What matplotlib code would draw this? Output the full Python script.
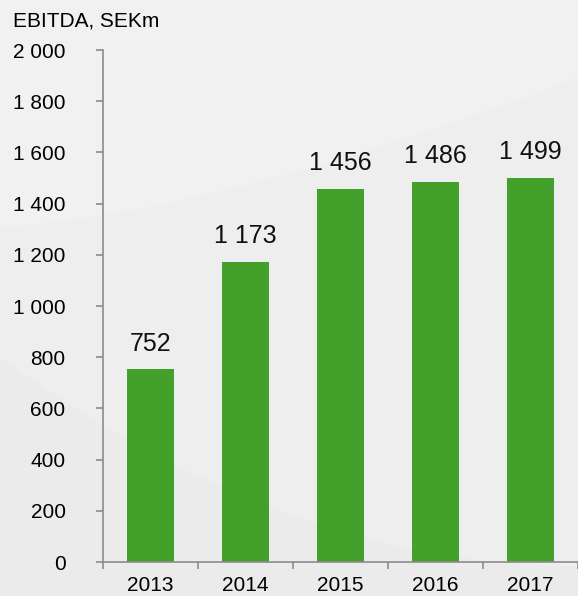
import numpy as np
import matplotlib
matplotlib.use("Agg")
from matplotlib import pyplot as plt
from matplotlib.ticker import FuncFormatter, FixedLocator

# data
years = ["2013", "2014", "2015", "2016", "2017"]
ebitda = [752, 1173, 1456, 1486, 1499]
yticks = list(range(0, 2001, 200))

plt.rcParams["font.family"] = ["Liberation Sans", "DejaVu Sans"]

fig = plt.figure(figsize=(5.78, 5.96), dpi=100, facecolor="#eeeeee")

# faint background swooshes
bg = fig.add_axes([0, 0, 1, 1], zorder=-1)
bg.set_xlim(0, 1)
bg.set_ylim(0, 1)
bg.axis("off")
t = np.linspace(0, 1, 200)
bg.fill_between(t, 0.62 + 0.25 * t**1.5, 1.0, color="#f1f1f1", lw=0)
bg.fill_between(t, 0.0, 0.05 + 0.35 * (1 - t) ** 2, color="#ebebeb", lw=0)

ax = fig.add_axes([103 / 578, 34 / 596, 475 / 578, 512 / 596])
ax.set_facecolor("none")

x = np.arange(len(years))
bars = ax.bar(x, ebitda, width=0.49, color="#43a02a", zorder=2)

for xi, v in zip(x, ebitda):
    ax.annotate(f"{v:,}".replace(",", " "), (xi, v), xytext=(0, 10),
                textcoords="offset points", ha="center", va="bottom",
                fontsize=18, color="#111111")

ax.set_xlim(-0.5, len(years) - 0.5)
ax.set_ylim(0, 2000)
ax.set_yticks(yticks)
ax.yaxis.set_major_formatter(FuncFormatter(lambda v, p: f"{int(v):,}".replace(",", " ")))

ax.set_xticks(x)
ax.set_xticklabels(years)
ax.xaxis.set_minor_locator(FixedLocator(np.arange(-0.5, len(years), 1.0)))
ax.tick_params(axis="x", which="major", length=0, pad=10, labelsize=15)
ax.tick_params(axis="x", which="minor", length=5, width=1.2, color="#8c8c8c")
ax.tick_params(axis="y", length=5, width=1.2, color="#8c8c8c", pad=22, labelsize=15)

for s in ["top", "right"]:
    ax.spines[s].set_visible(False)
for s in ["left", "bottom"]:
    ax.spines[s].set_color("#8c8c8c")
    ax.spines[s].set_linewidth(1.2)

fig.text(13 / 578, 1 - 21 / 596, "EBITDA, SEKm", fontsize=15, va="center", ha="left")

fig.savefig("out.png", dpi=100, facecolor=fig.get_facecolor())
